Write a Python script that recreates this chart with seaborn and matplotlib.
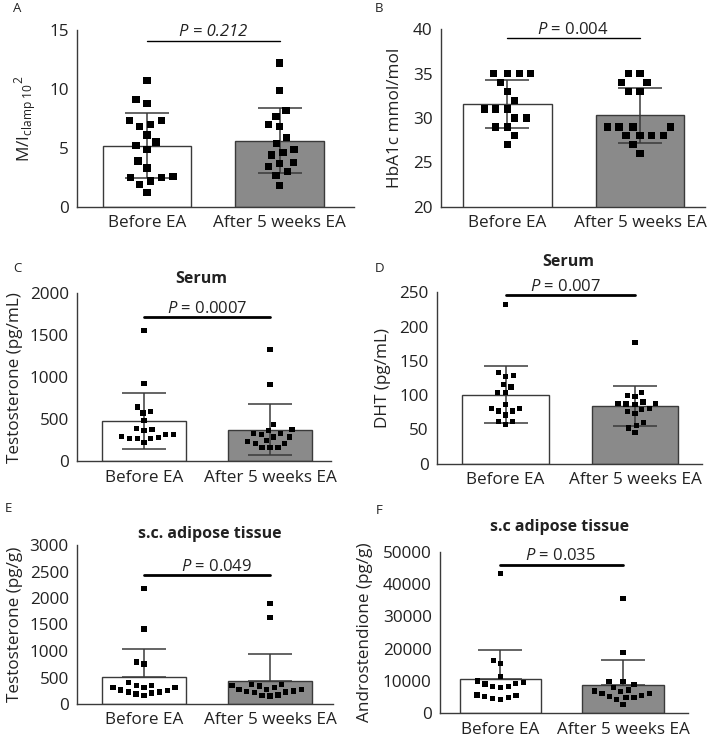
import numpy as np
import pandas as pd
import matplotlib
matplotlib.use("Agg")
import matplotlib.pyplot as plt
import seaborn as sns

sns.set_style("white")
plt.rcParams['font.family'] = ['Open Sans', 'DejaVu Sans']
plt.rcParams['mathtext.fontset'] = 'custom'
plt.rcParams['mathtext.rm'] = 'Open Sans'
plt.rcParams['mathtext.it'] = 'Open Sans:italic'
plt.rcParams['mathtext.bf'] = 'Open Sans:bold'

# ---------------- data ----------------
groups = ["Before EA", "After 5 weeks EA"]

a_before = [10.7, 9.1, 8.8, 7.3, 7.3, 7.0, 6.8, 6.1, 5.5, 5.2, 4.9, 3.9, 3.3, 2.6, 2.5, 2.5, 2.2, 1.9, 1.2]
a_after = [12.2, 9.9, 8.2, 7.7, 7.0, 6.8, 5.9, 5.4, 4.9, 4.6, 4.4, 3.8, 3.7, 3.4, 3.0, 2.7, 1.8]

b_before = [35, 35, 35, 35, 34, 33, 32, 31, 31, 31, 30, 30, 29, 29, 28, 27]
b_after = [35, 35, 34, 34, 33, 33, 29, 29, 29, 29, 28, 28, 28, 28, 27, 26]

c_before = [1560, 925, 645, 590, 575, 485, 390, 380, 370, 320, 320, 295, 285, 275, 275, 275, 220]
c_after = [1330, 910, 440, 375, 365, 335, 330, 320, 290, 290, 245, 240, 215, 215, 165, 165, 165]

d_before = [232, 133, 129, 127, 116, 112, 104, 104, 86, 81, 81, 77, 77, 71, 62, 62, 57]
d_after = [177, 104, 100, 98, 90, 88, 88, 87, 86, 80, 79, 76, 73, 60, 56, 52, 45]

e_before = [2175, 1415, 790, 755, 400, 355, 355, 315, 315, 315, 265, 260, 225, 225, 205, 190, 165]
e_after = [1900, 1630, 370, 365, 345, 340, 310, 280, 275, 270, 245, 240, 225, 220, 170, 160, 150]

f_before = [43300, 16300, 15300, 11300, 10000, 9600, 9300, 9100, 8300, 8300, 8000, 5700, 5400, 5200, 5000, 4500, 4300]
f_after = [35500, 18800, 9800, 9800, 8900, 7900, 7200, 6900, 6700, 6200, 6100, 5400, 5300, 5000, 4900, 4200, 2700]

panel_letters = ["A", "B", "C", "D", "E", "F"]
ylabels = [r"M/I$_{\mathrm{clamp\ 10}}$$^{\mathrm{2}}$", "HbA1c mmol/mol", "Testosterone (pg/mL)",
           "DHT (pg/mL)", "Testosterone (pg/g)", "Androstendione (pg/g)"]
titles = [None, None, "Serum", "Serum", "s.c. adipose tissue", "s.c adipose tissue"]
p_texts = ["P = 0.212", r"$\mathit{P}$ = 0.004", r"$\mathit{P}$ = 0.0007", r"$\mathit{P}$ = 0.007",
           r"$\mathit{P}$ = 0.049", r"$\mathit{P}$ = 0.035"]
p_line_y = [14.1, 38.95, 1714, 246, 2440, 46000]
yticks = [[0, 5, 10, 15], [20, 25, 30, 35, 40], [0, 500, 1000, 1500, 2000],
          [0, 50, 100, 150, 200, 250], [0, 500, 1000, 1500, 2000, 2500, 3000],
          [0, 10000, 20000, 30000, 40000, 50000]]

datasets = [(a_before, a_after), (b_before, b_after), (c_before, c_after),
            (d_before, d_after), (e_before, e_after), (f_before, f_after)]

# ---------------- layout (pixel boxes) ----------------
W, H = 709, 740
boxes = [  # left, right, top, bottom (px)
    (77, 354, 30, 207),
    (441, 705, 29, 207),
    (77, 331, 293.3, 461.3),
    (437, 702, 292.3, 463.7),
    (77, 333, 545, 704),
    (440, 688, 551.7, 713.3),
]
xlims = [(-0.528, 1.562), (-0.502, 1.491), (-0.532, 1.484), (-0.529, 1.517), (-0.532, 1.50), (-0.494, 1.531)]
label_x = [-0.14, -0.144, -0.213, -0.174, -0.211, -0.27]
letter_pos = [(13, 9), (375, 8), (13, 268), (375, 268), (5, 509), (376, 510)]
title_pos = [None, None, (0.488, 1.085), (0.494, 1.178), (0.52, 1.069), (0.484, 1.153)]
ptext_x = [0.5, 0.494, 0.5, 0.46, 0.577, 0.486]
p_lw = [1.0, 1.0, 2.0, 2.0, 2.0, 2.0]
ms = [5.2, 5.2, 3.8, 3.8, 3.8, 3.8]
swarm_pad = [2.8, 2.8, 1.7, 1.7, 1.7, 1.7]
upper_only = [False, False, False, False, True, True]

axcol = "#3a3a3a"
fs = 12.3

fig = plt.figure(figsize=(W / 100, H / 100), dpi=100)

for i, (bef, aft) in enumerate(datasets):
    l, r, t, b = boxes[i]
    ax = fig.add_axes([l / W, (H - b) / H, (r - l) / W, (b - t) / H])
    df = pd.DataFrame({
        "group": [groups[0]] * len(bef) + [groups[1]] * len(aft),
        "value": list(bef) + list(aft),
    })
    sns.barplot(data=df, x="group", y="value", hue="group", order=groups, hue_order=groups,
                palette=["white", "#8a8a8a"], errorbar=None, width=0.665, legend=False,
                edgecolor=axcol, linewidth=1.0, ax=ax, zorder=1)
    stats = df.groupby("group")["value"].agg(["mean", "std"]).reindex(groups)
    lower = np.zeros(2) if upper_only[i] else stats["std"].values
    ax.errorbar([0, 1], stats["mean"].values, yerr=[lower, stats["std"].values], fmt="none",
                ecolor=axcol, elinewidth=1.1, capsize=15.5, capthick=1.1, zorder=2)
    n0 = len(ax.collections)
    sns.swarmplot(data=df, x="group", y="value", order=groups, marker="s", color="black",
                  size=ms[i], linewidth=0, ax=ax, zorder=4)
    # invisible edge widens the swarm spacing (GraphPad-like layout)
    for coll in ax.collections[n0:]:
        coll.set_edgecolor("none")
        coll.set_linewidth(swarm_pad[i])

    yt = yticks[i]
    ax.set_ylim(yt[0], yt[-1])
    ax.set_yticks(yt)
    ax.set_xlim(*xlims[i])
    ax.set_xlabel("")
    ax.set_ylabel(ylabels[i], fontsize=fs, color="#222222")
    ax.yaxis.set_label_coords(label_x[i], 0.5)
    sns.despine(ax=ax)
    for s in ["left", "bottom"]:
        ax.spines[s].set_color(axcol)
        ax.spines[s].set_linewidth(1.0)
    ax.tick_params(axis="both", direction="out", length=4, width=1.0, color=axcol,
                   labelsize=fs, labelcolor="#222222", pad=2)

    # p-value bracket
    y = p_line_y[i]
    ax.plot([0, 1], [y, y], color="black", lw=p_lw[i], clip_on=False, zorder=5)
    style = "italic" if i == 0 else "normal"
    ax.annotate(p_texts[i], xy=(ptext_x[i], y), xytext=(0, 3), textcoords="offset points",
                ha="center", va="baseline", fontsize=12, style=style, color="#222222",
                annotation_clip=False)

    if titles[i]:
        ax.text(title_pos[i][0], title_pos[i][1], titles[i], transform=ax.transAxes,
                ha="center", va="center", fontsize=11.5, fontweight="bold", color="#222222")

    lx, ly = letter_pos[i]
    fig.text(lx / W, 1 - ly / H, panel_letters[i], ha="left", va="center", fontsize=9.5,
             color="#222222")

fig.savefig("out.png", dpi=100)
